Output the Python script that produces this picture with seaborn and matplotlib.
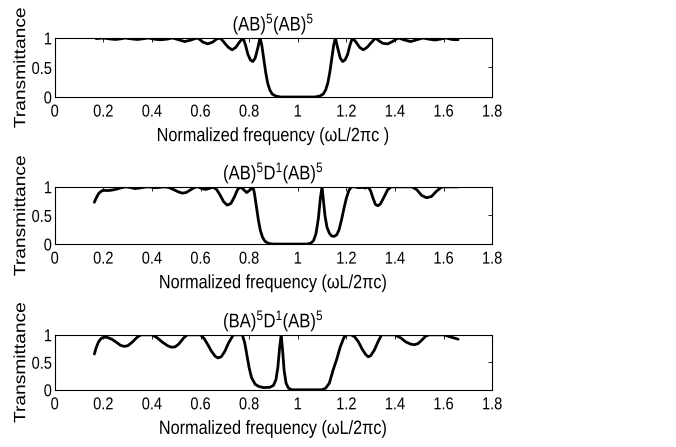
import numpy as np
import pandas as pd
import matplotlib
matplotlib.use('Agg')
import matplotlib.pyplot as plt
from matplotlib.patheffects import AbstractPathEffect
from matplotlib.transforms import Affine2D
import seaborn as sns

# (AB)^5(AB)^5
x1 = [0.17, 0.20, 0.225, 0.25, 0.27, 0.29, 0.315, 0.34, 0.36, 0.385, 0.41, 0.435, 0.46, 0.485,
      0.51, 0.535, 0.56, 0.585, 0.595, 0.61, 0.63, 0.65, 0.665, 0.68, 0.69, 0.70, 0.715, 0.73,
      0.745, 0.76, 0.775, 0.785, 0.795, 0.805, 0.815, 0.825, 0.835, 0.845, 0.852, 0.86, 0.868,
      0.876, 0.885, 0.895, 0.91, 0.93, 1.07, 1.09, 1.105, 1.115, 1.124, 1.132, 1.14, 1.148,
      1.155, 1.165, 1.175, 1.185, 1.195, 1.205, 1.215, 1.225, 1.24, 1.255, 1.27, 1.285, 1.30,
      1.32, 1.335, 1.35, 1.37, 1.39, 1.405, 1.415, 1.44, 1.465, 1.49, 1.515, 1.54, 1.565,
      1.585, 1.61, 1.635, 1.66]
t1 = [0.99, 1.00, 0.985, 0.975, 0.985, 1.00, 0.985, 0.975, 0.985, 1.00, 0.98, 0.97, 0.98, 1.00,
      0.97, 0.94, 0.965, 1.00, 0.98, 0.93, 0.90, 0.93, 0.98, 1.00, 0.96, 0.91, 0.84, 0.80,
      0.84, 0.93, 1.00, 0.88, 0.72, 0.63, 0.60, 0.66, 0.82, 1.00, 0.88, 0.65, 0.42,
      0.24, 0.12, 0.05, 0.015, 0.0, 0.0, 0.015, 0.05, 0.12, 0.24, 0.42, 0.65, 0.88,
      1.00, 0.82, 0.66, 0.60, 0.63, 0.72, 0.88, 1.00, 0.93, 0.84, 0.80, 0.84, 0.91,
      1.00, 0.95, 0.91, 0.90, 0.94, 0.98, 1.00, 0.965, 0.94, 0.97, 1.00, 0.98, 0.965,
      0.98, 1.00, 0.975, 0.97]

# (AB)^5 D^1 (AB)^5
x2 = [0.163, 0.17, 0.18, 0.19, 0.20, 0.215, 0.23, 0.25, 0.27, 0.29, 0.31, 0.33, 0.35, 0.37, 0.39,
      0.41, 0.43, 0.45, 0.47, 0.49, 0.51, 0.525, 0.54, 0.56, 0.575, 0.59, 0.605, 0.62, 0.635,
      0.65, 0.665, 0.68, 0.695, 0.71, 0.725, 0.74, 0.752, 0.763, 0.775, 0.79, 0.805, 0.816,
      0.822, 0.83, 0.838, 0.846, 0.855, 0.865, 0.88, 0.90, 1.04, 1.055, 1.065, 1.075, 1.085,
      1.093, 1.10, 1.106, 1.112, 1.12, 1.13, 1.14, 1.15, 1.16, 1.17, 1.18, 1.19, 1.20, 1.21,
      1.22, 1.235, 1.25, 1.265, 1.28, 1.29, 1.30, 1.31, 1.32, 1.33, 1.34, 1.355, 1.37, 1.385,
      1.47, 1.49, 1.51, 1.53, 1.55, 1.57, 1.59, 1.60, 1.66]
t2 = [0.73, 0.80, 0.88, 0.92, 0.94, 0.935, 0.94, 0.955, 0.98, 1.0, 0.99, 0.97, 0.98, 0.995, 1.0,
      0.985, 0.99, 1.0, 0.99, 0.95, 0.91, 0.89, 0.90, 0.95, 0.99, 1.0, 0.97, 0.955, 0.97,
      0.995, 0.96, 0.86, 0.74, 0.68, 0.71, 0.83, 0.95, 1.0, 0.96, 0.90, 0.95, 1.0,
      0.88, 0.65, 0.42, 0.24, 0.12, 0.05, 0.01, 0.0, 0.0, 0.02, 0.06, 0.18, 0.45,
      0.80, 1.0, 0.75, 0.50, 0.30, 0.19, 0.14, 0.135, 0.16, 0.25, 0.42, 0.62, 0.80, 0.93,
      1.0, 1.0, 0.985, 0.99, 0.98, 1.0, 0.93, 0.80, 0.69, 0.67, 0.70, 0.82, 0.95, 1.0,
      1.0, 0.95, 0.85, 0.81, 0.83, 0.92, 0.99, 1.0, 1.0]

# (BA)^5 D^1 (AB)^5
x3 = [0.163, 0.17, 0.18, 0.19, 0.20, 0.215, 0.235, 0.255, 0.27, 0.285, 0.30, 0.32, 0.34, 0.355,
      0.40, 0.42, 0.445, 0.465, 0.48, 0.495, 0.51, 0.53, 0.545, 0.60, 0.615, 0.63, 0.645, 0.66,
      0.672, 0.685, 0.70, 0.715, 0.735, 0.772, 0.782, 0.79, 0.80, 0.81, 0.825, 0.84, 0.86, 0.885,
      0.90, 0.91, 0.918, 0.925, 0.932, 0.938, 0.944, 0.952, 0.962, 0.975, 1.10, 1.115, 1.13,
      1.145, 1.16, 1.175, 1.19, 1.20, 1.22, 1.235, 1.25, 1.265, 1.28, 1.29, 1.30, 1.315, 1.33,
      1.345, 1.40, 1.425, 1.445, 1.465, 1.48, 1.495, 1.51, 1.525, 1.54, 1.60, 1.63, 1.66]
t3 = [0.65, 0.76, 0.87, 0.93, 0.955, 0.955, 0.92, 0.86, 0.81, 0.79, 0.80, 0.87, 0.96, 1.0,
      1.0, 0.95, 0.86, 0.80, 0.775, 0.78, 0.83, 0.94, 1.0, 1.0, 0.93, 0.82, 0.70, 0.61,
      0.58, 0.60, 0.70, 0.85, 1.0, 1.0, 0.85, 0.65, 0.40, 0.22, 0.10, 0.06, 0.04, 0.045,
      0.08, 0.18, 0.40, 0.75, 1.0, 0.70, 0.35, 0.12, 0.03, 0.0, 0.0, 0.03, 0.12,
      0.35, 0.55, 0.78, 0.95, 1.0, 1.0, 0.96, 0.87, 0.74, 0.64, 0.60, 0.62, 0.72, 0.87,
      1.0, 1.0, 0.94, 0.87, 0.83, 0.82, 0.84, 0.90, 0.97, 1.0, 1.0, 0.96, 0.92]

titles = [r'(AB)$^5$(AB)$^5$', r'(AB)$^5$D$^1$(AB)$^5$', r'(BA)$^5$D$^1$(AB)$^5$']
xlabels = ['Normalized frequency (\u03c9L/2\u03c0c )', 'Normalized frequency (\u03c9L/2\u03c0c)',
           'Normalized frequency (\u03c9L/2\u03c0c)']
xticks = [0, 0.2, 0.4, 0.6, 0.8, 1.0, 1.2, 1.4, 1.6, 1.8]
xticklabels = ['0', '0.2', '0.4', '0.6', '0.8', '1', '1.2', '1.4', '1.6', '1.8']
yticks = [0, 0.5, 1]
yticklabels = ['0', '0.5', '1']


class Stretch(AbstractPathEffect):
    # the source picture is a bit squashed sideways: text looks taller than wide
    def __init__(self, sy):
        super().__init__()
        self.sy = sy

    def draw_path(self, renderer, gc, tpath, affine, rgbFace=None):
        ext = tpath.get_extents(affine)
        cy = (ext.y0 + ext.y1) / 2
        tr = affine + Affine2D().translate(0, -cy).scale(1, self.sy).translate(0, cy)
        renderer.draw_path(gc, tpath, tr, rgbFace)


sns.set_style('white')
plt.rcParams['font.family'] = ['Liberation Sans', 'DejaVu Sans']
plt.rcParams['mathtext.fontset'] = 'custom'
plt.rcParams['mathtext.rm'] = 'Liberation Sans'
plt.rcParams['mathtext.it'] = 'Liberation Sans'
plt.rcParams['mathtext.default'] = 'rm'
plt.rcParams['text.color'] = 'black'
plt.rcParams['axes.labelcolor'] = 'black'

fig = plt.figure(figsize=(6.76, 4.47), dpi=100)
left, width = 0.081, 0.647
bottoms = [0.783, 0.454, 0.128]
heights = [0.132, 0.128, 0.123]
stretch = [Stretch(1.18)]

for i, (xs, ts) in enumerate([(x1, t1), (x2, t2), (x3, t3)]):
    ax = fig.add_axes([left, bottoms[i], width, heights[i]])
    df = pd.DataFrame({'f': xs, 'T': ts})
    sns.lineplot(data=df, x='f', y='T', sort=False, color='black', lw=2.0, ax=ax)
    ax.set_xlim(0, 1.8)
    ax.set_ylim(0, 1)
    ax.set_xticks(xticks)
    ax.set_xticklabels(xticklabels)
    ax.set_yticks(yticks)
    ax.set_yticklabels(yticklabels)
    ax.tick_params(direction='in', length=3, width=0.6, top=True, right=True,
                   labelsize=10.5, colors='black')
    ax.tick_params(axis='x', pad=5.5)
    ax.tick_params(axis='y', pad=2)
    for s in ax.spines.values():
        s.set_color('black')
        s.set_linewidth(0.8)
    ax.set_xlabel(xlabels[i], fontsize=11.7, labelpad=7)
    ax.set_ylabel('Transmittance', fontsize=11.7, labelpad=2.5)
    ax.set_title(titles[i], fontsize=12, pad=6)
    for t in ax.get_xticklabels() + ax.get_yticklabels():
        t.set_path_effects(stretch)
    ax.xaxis.label.set_path_effects(stretch)
    ax.yaxis.label.set_path_effects(stretch)
    ax.title.set_path_effects(stretch)

fig.savefig('out.png', dpi=100)
